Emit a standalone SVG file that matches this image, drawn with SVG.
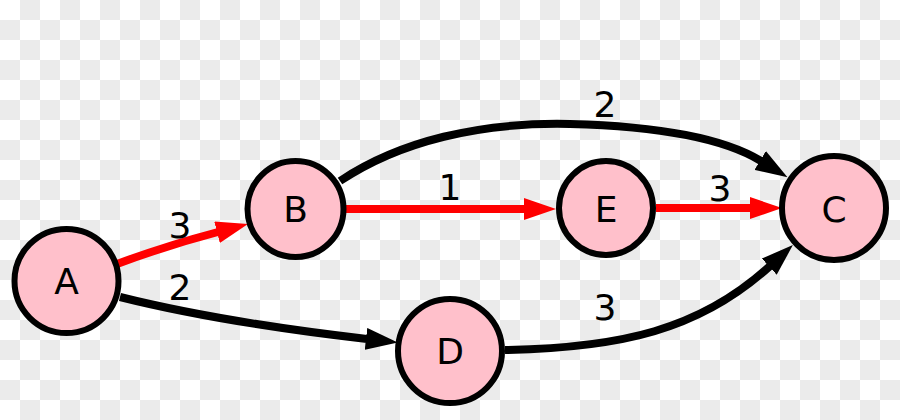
<svg xmlns="http://www.w3.org/2000/svg" width="900" height="420" viewBox="0 0 900 420">
  <defs>
    <pattern id="checker" x="0" y="0" width="40" height="40" patternUnits="userSpaceOnUse">
      <rect x="0" y="0" width="40" height="40" fill="#ffffff"/>
      <rect x="20" y="0" width="20" height="20" fill="#ebebeb"/>
      <rect x="0" y="20" width="20" height="20" fill="#ebebeb"/>
    </pattern>
    <marker id="arrowBlack" viewBox="0 0 32 22" markerWidth="32" markerHeight="22" refX="1" refY="11" orient="auto" markerUnits="userSpaceOnUse">
      <path d="M0,0 L32,11 L0,22 z" fill="#000"/>
    </marker>
    <marker id="arrowRed" viewBox="0 0 32 22" markerWidth="32" markerHeight="22" refX="1" refY="11" orient="auto" markerUnits="userSpaceOnUse">
      <path d="M0,0 L32,11 L0,22 z" fill="#ff0000"/>
    </marker>
  </defs>
  <style>
    .node circle { fill: #ffc0cb; stroke: #000; stroke-width: 6; }
    .node text, .label { font-family: "DejaVu Sans", sans-serif; font-size: 36px; fill: #000; text-anchor: middle; }
    .edge { fill: none; stroke-width: 8; }
    .black { stroke: #000; marker-end: url(#arrowBlack); }
    .red { stroke: #ff0000; marker-end: url(#arrowRed); }
  </style>
  <rect x="0" y="0" width="900" height="420" fill="url(#checker)"/>

  <g id="connectors">
    <path class="edge red" d="M117,264 Q165,246 218,232"/>
    <path class="edge black" d="M120,297 Q220,322 367,339"/>
    <path class="edge red" d="M344,209 L525,209"/>
    <path class="edge red" d="M656,208 L751,208"/>
    <path class="edge black" d="M340,181 C400,141 480,122 570,124 C650,126 720,136 761,161"/>
    <path class="edge black" d="M505,350 C620,348 700,330 770,266"/>
  </g>

  <g id="edge-labels">
    <text class="label" x="180" y="238">3</text>
    <text class="label" x="180" y="300">2</text>
    <text class="label" x="450" y="200">1</text>
    <text class="label" x="605" y="117">2</text>
    <text class="label" x="720" y="201">3</text>
    <text class="label" x="605" y="320">3</text>
  </g>

  <g id="node-A" class="node">
    <circle cx="66.5" cy="281" r="52"/>
    <text x="66.5" y="294">A</text>
  </g>
  <g id="node-B" class="node">
    <circle cx="295.5" cy="209" r="48"/>
    <text x="295.5" y="222">B</text>
  </g>
  <g id="node-E" class="node">
    <circle cx="606" cy="208" r="47"/>
    <text x="606" y="222">E</text>
  </g>
  <g id="node-C" class="node">
    <circle cx="834" cy="208" r="52"/>
    <text x="834" y="222">C</text>
  </g>
  <g id="node-D" class="node">
    <circle cx="450" cy="351" r="52"/>
    <text x="450" y="364">D</text>
  </g>
</svg>
